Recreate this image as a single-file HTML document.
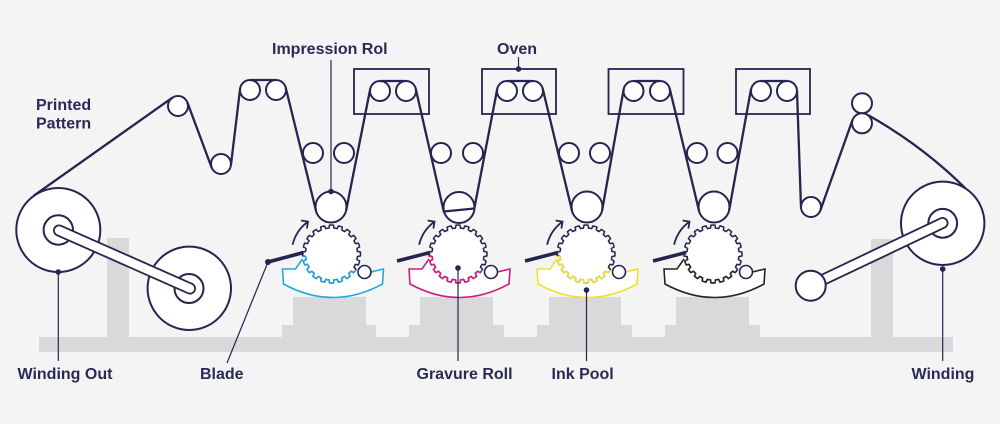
<!DOCTYPE html>
<html><head><meta charset="utf-8">
<style>
html,body{margin:0;padding:0;background:#f4f4f5;}
svg{display:block;}
text{font-family:"Liberation Sans",Arial,sans-serif;font-weight:bold;font-size:16px;fill:#2a2a55;}
</style></head><body>
<svg width="1000" height="424" viewBox="0 0 1000 424" xmlns="http://www.w3.org/2000/svg">
<defs>
<path id="tooth" d="M-4.067,-25.68 A26,26 0 0 1 -2.492,-25.88 L-2.023,-28.93 A29,29 0 0 1 2.023,-28.93 L2.492,-25.88 A26,26 0 0 1 4.067,-25.68" fill="none" stroke="currentColor" stroke-width="1.5" stroke-linejoin="round" stroke-linecap="round"/>
<g id="gear">
 <use href="#tooth"/>
 <use href="#tooth" transform="rotate(18)"/>
 <use href="#tooth" transform="rotate(36)"/>
 <use href="#tooth" transform="rotate(54)"/>
 <use href="#tooth" transform="rotate(72)"/>
 <use href="#tooth" transform="rotate(90)"/>
 <use href="#tooth" transform="rotate(108)"/>
 <use href="#tooth" transform="rotate(126)"/>
 <use href="#tooth" transform="rotate(144)"/>
 <use href="#tooth" transform="rotate(162)"/>
 <use href="#tooth" transform="rotate(180)"/>
 <use href="#tooth" transform="rotate(198)"/>
 <use href="#tooth" transform="rotate(216)"/>
 <use href="#tooth" transform="rotate(234)"/>
 <use href="#tooth" transform="rotate(252)"/>
 <use href="#tooth" transform="rotate(270)"/>
 <use href="#tooth" transform="rotate(288)"/>
 <use href="#tooth" transform="rotate(306)"/>
 <use href="#tooth" transform="rotate(324)"/>
 <use href="#tooth" transform="rotate(342)"/>
</g>
<clipPath id="gclip" clipPathUnits="userSpaceOnUse"><polygon points="-42,2 -26,2 24,16 42,16 42,48 -42,48"/></clipPath>
</defs>
<rect width="1000" height="424" fill="#f4f4f5"/>

<!-- gray structures -->
<g fill="#d9d9db">
 <rect x="39" y="337" width="914" height="15"/>
 <rect x="107" y="238" width="22" height="100"/>
 <rect x="871" y="239" width="22" height="99"/>
 <rect x="293" y="297" width="73" height="41"/><rect x="282" y="325" width="94" height="13"/>
 <rect x="420" y="297" width="73" height="41"/><rect x="409" y="325" width="95" height="13"/>
 <rect x="549" y="297" width="72" height="41"/><rect x="537" y="325" width="95" height="13"/>
 <rect x="676" y="297" width="73" height="41"/><rect x="665" y="325" width="95" height="13"/>
</g>

<!-- ovens -->
<g fill="none" stroke="#25254f" stroke-width="1.8">
 <rect x="354" y="69" width="75" height="45"/>
 <rect x="482" y="69" width="74" height="45"/>
 <rect x="608.5" y="69" width="75" height="45"/>
 <rect x="736" y="69" width="74" height="45"/>
</g>

<!-- rollers -->
<g fill="#fff" stroke="#25254f" stroke-width="2">
 <circle cx="178" cy="106" r="10"/><circle cx="221" cy="164" r="10"/>
 <circle cx="250" cy="90" r="10"/><circle cx="276" cy="90" r="10"/>
 <circle cx="380" cy="91" r="10"/><circle cx="406" cy="91" r="10"/>
 <circle cx="507" cy="91" r="10"/><circle cx="533" cy="91" r="10"/>
 <circle cx="633.5" cy="91" r="10"/><circle cx="660" cy="91" r="10"/>
 <circle cx="761" cy="91" r="10"/><circle cx="787" cy="91" r="10"/>
 <circle cx="313" cy="153" r="10"/><circle cx="344" cy="153" r="10"/>
 <circle cx="441" cy="153" r="10"/><circle cx="473" cy="153" r="10"/>
 <circle cx="569" cy="153" r="10"/><circle cx="600" cy="153" r="10"/>
 <circle cx="697" cy="153" r="10"/><circle cx="727.5" cy="153" r="10"/>
 <circle cx="811" cy="207" r="10"/>
 <circle cx="862" cy="103.3" r="10"/><circle cx="862" cy="123.3" r="10"/>
 <circle cx="331" cy="207" r="15.5"/><circle cx="459" cy="207.5" r="15.5"/>
 <circle cx="587" cy="207" r="15.5"/><circle cx="714" cy="207" r="15.5"/>
</g>

<!-- web -->
<path fill="none" stroke="#25254f" stroke-width="2.3" stroke-linejoin="round" d="
M33.8,195.7 L172.2,97.8
M187.4,102.5 L211.6,167.5
M230.9,165.2 L240.1,88.8
M250,80 L276,80
M285.7,87.6 L316,210.7
M346.2,210 L370.2,89.1
M380,81 L406,81
M415.7,88.6 L443.8,211.5 L474.3,208.5 L497.2,89.1
M507,81 L533,81
M542.7,88.6 L572,210.7
M602.2,210 L623.7,89.1
M633.5,81 L660,81
M669.7,88.6 L699,210.7
M729.2,210 L751,89.1
M761,81 L787,81
M797,90.7 L801,207.3
M820.4,210.3 L852.6,119.7
M868.3,115.3 Q930,150 976.7,200"/>

<!-- stations -->
<g transform="translate(331.5,254)">
 <path d="M-29,5 L-36,15 L-49,15 L-48,30 Q1.5,57 51,30 L52,15 L39.5,18" fill="#fff" stroke="#22a7dc" stroke-width="1.6"/>
 <circle r="26.3" fill="#fff"/>
 <use href="#gear" style="color:#25254f"/>
 <use href="#gear" style="color:#22a7dc" clip-path="url(#gclip)"/>
 <circle cx="33" cy="18" r="6.5" fill="#fff" stroke="#25254f" stroke-width="1.6"/>
 <line x1="-63.5" y1="8" x2="-28" y2="-1.5" stroke="#25254f" stroke-width="3.5"/>
 <path d="M-38.9,-9.3 A40,40 0 0 1 -23.5,-32.4 M-30.4,-33.5 L-23.5,-32.4 L-24.6,-25.5" fill="none" stroke="#25254f" stroke-width="1.8"/>
</g>
<g transform="translate(458,254)">
 <path d="M-29,5 L-36,15 L-49,15 L-48,30 Q1.5,57 51,30 L52,15 L39.5,18" fill="#fff" stroke="#d41a7f" stroke-width="1.6"/>
 <circle r="26.3" fill="#fff"/>
 <use href="#gear" style="color:#25254f"/>
 <use href="#gear" style="color:#d41a7f" clip-path="url(#gclip)"/>
 <circle cx="33" cy="18" r="6.5" fill="#fff" stroke="#25254f" stroke-width="1.6"/>
 <line x1="-61" y1="7" x2="-28" y2="-1.5" stroke="#25254f" stroke-width="3.5"/>
 <path d="M-38.9,-9.3 A40,40 0 0 1 -23.5,-32.4 M-30.4,-33.5 L-23.5,-32.4 L-24.6,-25.5" fill="none" stroke="#25254f" stroke-width="1.8"/>
</g>
<g transform="translate(586,254)">
 <path d="M-29,5 L-36,15 L-49,15 L-48,30 Q1.5,57 51,30 L52,15 L39.5,18" fill="#fff" stroke="#f0e22c" stroke-width="1.6"/>
 <circle r="26.3" fill="#fff"/>
 <use href="#gear" style="color:#25254f"/>
 <use href="#gear" style="color:#f0e22c" clip-path="url(#gclip)"/>
 <circle cx="33" cy="18" r="6.5" fill="#fff" stroke="#25254f" stroke-width="1.6"/>
 <line x1="-61" y1="7" x2="-28" y2="-1.5" stroke="#25254f" stroke-width="3.5"/>
 <path d="M-38.9,-9.3 A40,40 0 0 1 -23.5,-32.4 M-30.4,-33.5 L-23.5,-32.4 L-24.6,-25.5" fill="none" stroke="#25254f" stroke-width="1.8"/>
</g>
<g transform="translate(713,254)">
 <path d="M-29,5 L-36,15 L-49,15 L-48,30 Q1.5,57 51,30 L52,15 L39.5,18" fill="#fff" stroke="#252525" stroke-width="1.6"/>
 <circle r="26.3" fill="#fff"/>
 <use href="#gear" style="color:#25254f"/>
 <use href="#gear" style="color:#252525" clip-path="url(#gclip)"/>
 <circle cx="33" cy="18" r="6.5" fill="#fff" stroke="#25254f" stroke-width="1.6"/>
 <line x1="-60" y1="7" x2="-27" y2="-1.5" stroke="#25254f" stroke-width="3.5"/>
 <path d="M-38.9,-9.3 A40,40 0 0 1 -23.5,-32.4 M-30.4,-33.5 L-23.5,-32.4 L-24.6,-25.5" fill="none" stroke="#25254f" stroke-width="1.8"/>
</g>

<!-- left winding -->
<g fill="#fff" stroke="#25254f" stroke-width="2">
 <circle cx="58.3" cy="230" r="42"/>
 <circle cx="58.3" cy="230" r="14.7"/>
 <circle cx="189.3" cy="288.3" r="41.7"/>
 <circle cx="189" cy="288.5" r="14.5"/>
</g>
<line x1="59" y1="230.5" x2="190" y2="288.5" stroke="#25254f" stroke-width="12" stroke-linecap="round"/>
<line x1="59" y1="230.5" x2="190" y2="288.5" stroke="#fff" stroke-width="8.4" stroke-linecap="round"/>

<!-- right winding -->
<g fill="#fff" stroke="#25254f" stroke-width="2">
 <circle cx="942.7" cy="223.3" r="41.7"/>
 <circle cx="942.7" cy="223.3" r="14.4"/>
</g>
<line x1="813" y1="284.5" x2="942.5" y2="223" stroke="#25254f" stroke-width="12" stroke-linecap="round"/>
<line x1="813" y1="284.5" x2="942.5" y2="223" stroke="#fff" stroke-width="8.4" stroke-linecap="round"/>
<circle cx="810.7" cy="285.7" r="15" fill="#fff" stroke="#25254f" stroke-width="2"/>

<!-- pointers -->
<g stroke="#25254f" stroke-width="1.2" fill="none">
 <line x1="58.3" y1="272" x2="58.3" y2="361"/>
 <line x1="268" y1="262" x2="227" y2="363"/>
 <line x1="331" y1="191.5" x2="331" y2="60"/>
 <line x1="518.5" y1="69" x2="518.5" y2="57"/>
 <line x1="458" y1="268" x2="458" y2="361"/>
 <line x1="586.5" y1="290" x2="586.5" y2="361"/>
 <line x1="942.7" y1="269" x2="942.7" y2="361"/>
</g>
<g fill="#25254f">
 <circle cx="58.3" cy="272" r="2.8"/>
 <circle cx="268" cy="262" r="3"/>
 <circle cx="331" cy="191.5" r="2.8"/>
 <circle cx="518.5" cy="69" r="2.8"/>
 <circle cx="458" cy="268" r="2.8"/>
 <circle cx="586.5" cy="290" r="2.8"/>
 <circle cx="942.7" cy="269" r="2.8"/>
</g>

<!-- labels -->
<text x="36" y="110">Printed</text>
<text x="36" y="128.5">Pattern</text>
<text x="272" y="54">Impression Rol</text>
<text x="497" y="54">Oven</text>
<text x="17.5" y="379">Winding Out</text>
<text x="200" y="379">Blade</text>
<text x="416.5" y="379">Gravure Roll</text>
<text x="551.5" y="379">Ink Pool</text>
<text x="911.5" y="379">Winding</text>
</svg>
</body></html>
